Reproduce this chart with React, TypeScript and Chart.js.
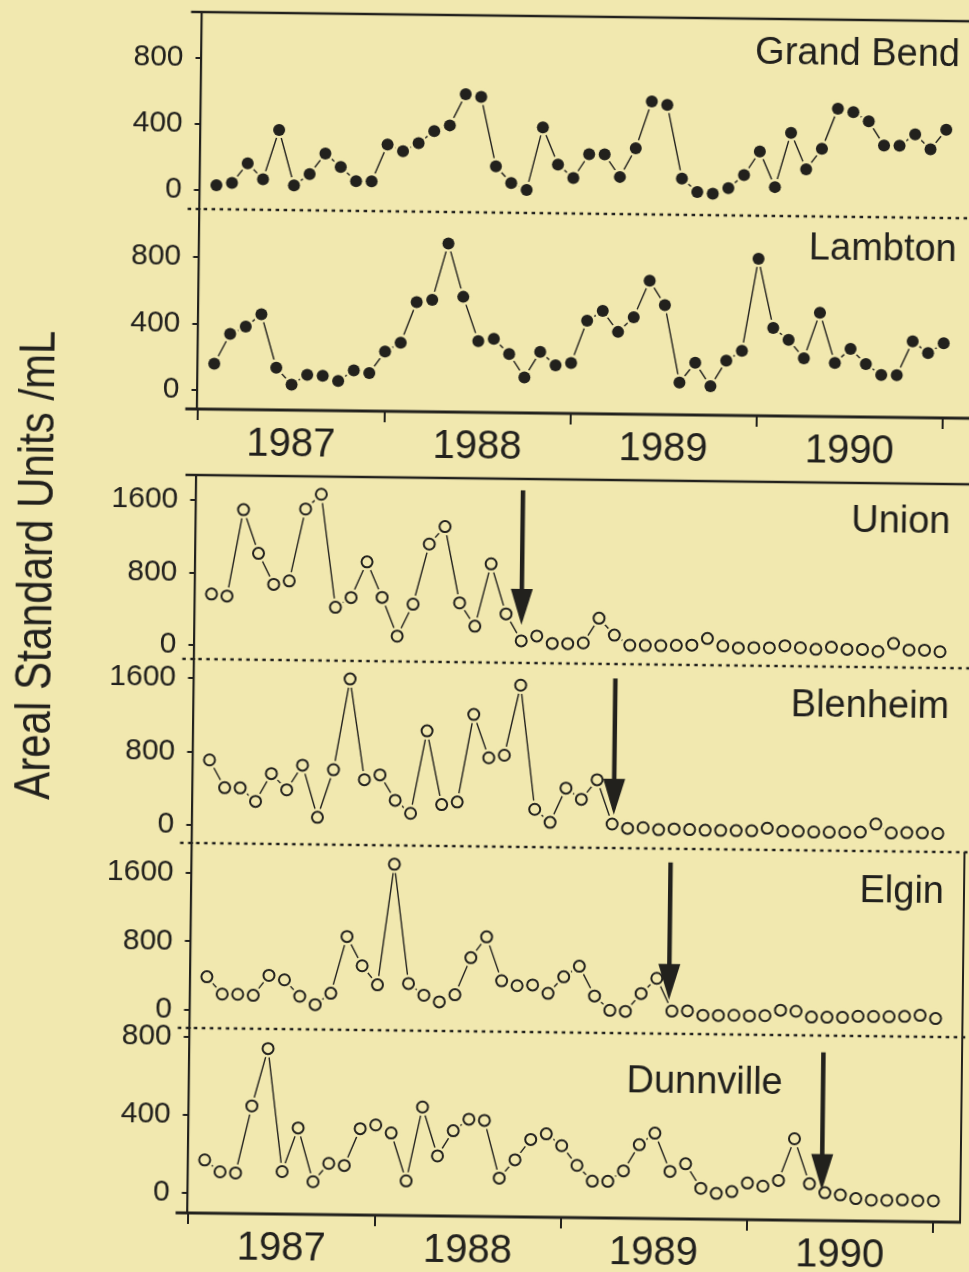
import React, { useEffect, useRef } from 'react';
import { Chart, registerables } from 'chart.js';

Chart.register(...registerables);

const INK = '#22211d';
const BG = '#f1e8af';
const FONT = "'Liberation Sans', Arial, Helvetica, sans-serif";

// x categories: monthly samples (index 0..47), year labels centred on each year
const yearLabels = ['1987', '1988', '1989', '1990'];
const yearCenters = [5, 17, 29, 41];
const yearBounds = [-1, 11, 23, 35, 47];

// Areal Standard Units / mL, monthly
const grandBend = [30, 45, 165, 70, 370, 35, 105, 230, 150, 65, 65, 290, 250, 300, 375, 410, 600, 585, 165, 65, 25, 405, 180, 100, 245, 245, 110, 285, 570, 550, 105, 25, 15, 50, 130, 275, 60, 390, 170, 295, 540, 520, 465, 320, 320, 390, 300, 420];
const lambton = [160, 340, 385, 460, 140, 40, 100, 95, 65, 130, 115, 245, 300, 545, 560, 900, 580, 315, 330, 240, 100, 255, 175, 190, 445, 505, 380, 470, 690, 545, 80, 200, 60, 215, 275, 830, 415, 345, 235, 510, 210, 295, 205, 140, 140, 345, 275, 335];
const union = [565, 545, 1500, 1020, 680, 720, 1515, 1680, 435, 545, 940, 550, 125, 480, 1145, 1340, 500, 245, 935, 385, 90, 145, 65, 65, 75, 350, 165, 55, 55, 55, 60, 65, 140, 60, 40, 45, 45, 70, 50, 35, 60, 40, 40, 20, 110, 40, 40, 25];
const blenheim = [710, 410, 410, 265, 570, 395, 665, 100, 620, 1610, 515, 570, 295, 155, 1055, 255, 285, 1240, 770, 800, 1565, 215, 75, 450, 330, 545, 65, 20, 30, 10, 20, 15, 10, 10, 10, 10, 40, 10, 10, 5, 5, 5, 10, 100, 5, 10, 10, 5];
const elgin = [390, 190, 190, 180, 415, 365, 175, 80, 215, 880, 540, 320, 1730, 340, 205, 130, 215, 650, 895, 385, 330, 340, 245, 440, 565, 220, 55, 45, 255, 435, 55, 60, 10, 10, 15, 10, 15, 80, 70, 5, 5, 5, 20, 20, 20, 25, 40, 5];
const dunnville = [170, 110, 105, 450, 745, 115, 340, 65, 160, 150, 340, 360, 320, 75, 455, 205, 335, 395, 390, 95, 190, 295, 325, 265, 165, 85, 85, 140, 275, 335, 140, 180, 55, 30, 40, 85, 70, 100, 315, 85, 40, 30, 12, 5, 5, 8, 5, 5];

// arrows (month index, value at top of shaft, value at arrow tip)
const arrowStations = ['Union', 'Blenheim', 'Elgin', 'Dunnville'];
const arrowMonth = [20, 26.1, 29.8, 39.8];
const arrowTop = [1750, 1650, 1790, 760];
const arrowTip = [265, 165, 183, 54];

const X_MIN = -1.06;
const X_MAX = 48.8;
const PAD_T = 30;
const PAD_B = 30;
const XH = 60;
const AXIS_LEFT = 194.5;
const CANVAS_W = 1000;
const AREA_RIGHT = 968;

type PanelDef = {
  name: string;
  values: number[];
  filled: boolean;
  top: number;
  bottom: number;
  yMin: number;
  yMax: number;
  yTicks: number[];
  xAxis: boolean;
  topSolid: boolean;
  rightLine: boolean;
  labelRight: number;
  labelBase: number;
};

const panels: PanelDef[] = [
  { name: 'Grand Bend', values: grandBend, filled: true, top: 12, bottom: 209, yMin: -115, yMax: 1079, yTicks: [0, 400, 800], xAxis: false, topSolid: true, rightLine: false, labelRight: 15, labelBase: 45 },
  { name: 'Lambton', values: lambton, filled: true, top: 209, bottom: 409, yMin: -114, yMax: 1089, yTicks: [0, 400, 800], xAxis: true, topSolid: false, rightLine: false, labelRight: 16, labelBase: 43 },
  { name: 'Union', values: union, filled: false, top: 475, bottom: 659, yMin: -154, yMax: 1876, yTicks: [0, 800, 1600], xAxis: false, topSolid: true, rightLine: false, labelRight: 19, labelBase: 48.5 },
  { name: 'Blenheim', values: blenheim, filled: false, top: 659, bottom: 843, yMin: -196, yMax: 1807, yTicks: [0, 800, 1600], xAxis: false, topSolid: false, rightLine: false, labelRight: 18, labelBase: 49.5 },
  { name: 'Elgin', values: elgin, filled: false, top: 843, bottom: 1028, yMin: -210, yMax: 1950, yTicks: [0, 800, 1600], xAxis: false, topSolid: false, rightLine: true, labelRight: 21, labelBase: 50.5 },
  { name: 'Dunnville', values: dunnville, filled: false, top: 1028, bottom: 1213, yMin: -103, yMax: 846, yTicks: [0, 400, 800], xAxis: true, topSolid: false, rightLine: true, labelRight: 180, labelBase: 59 },
];

function Panel({ p }: { p: PanelDef }) {
  const ref = useRef<HTMLCanvasElement | null>(null);
  const height = PAD_T + (p.bottom - p.top) + (p.xAxis ? XH : 0) + PAD_B;

  useEffect(() => {
    if (!ref.current) return;
    const pts = p.values.map((v, i) => ({ x: i, y: v }));
    const ai = arrowStations.indexOf(p.name);

    const frame = {
      id: 'frame_' + p.name.replace(/\s/g, ''),
      afterDraw(chart: any) {
        const { ctx, chartArea: a, scales } = chart;
        ctx.save();
        ctx.strokeStyle = INK;
        ctx.fillStyle = INK;
        ctx.lineCap = 'butt';
        if (p.topSolid) {
          ctx.lineWidth = 2.6;
          ctx.beginPath();
          ctx.moveTo(a.left - 11, a.top);
          ctx.lineTo(a.right + 10, a.top);
          ctx.stroke();
        }
        if (p.xAxis) {
          ctx.lineWidth = 3;
          ctx.beginPath();
          ctx.moveTo(a.left - 12, a.bottom);
          ctx.lineTo(p.rightLine ? a.right : a.right + 10, a.bottom);
          ctx.stroke();
        } else {
          ctx.lineWidth = 2.4;
          ctx.setLineDash([3.5, 4.5]);
          ctx.beginPath();
          ctx.moveTo(a.left - 12, a.bottom);
          ctx.lineTo(a.right + 10, a.bottom);
          ctx.stroke();
          ctx.setLineDash([]);
        }
        if (p.rightLine) {
          ctx.lineWidth = 2;
          ctx.beginPath();
          ctx.moveTo(a.right - 1, a.top);
          ctx.lineTo(a.right - 1, a.bottom);
          ctx.stroke();
        }

        ctx.font = `38px ${FONT}`;
        ctx.textAlign = 'right';
        ctx.textBaseline = 'alphabetic';
        ctx.fillText(p.name, a.right - p.labelRight, a.top + p.labelBase);

        if (ai >= 0) {
          const x = scales.x.getPixelForValue(arrowMonth[ai]);
          const y0 = scales.y.getPixelForValue(arrowTop[ai]);
          const y1 = scales.y.getPixelForValue(arrowTip[ai]);
          ctx.lineWidth = 4.5;
          ctx.beginPath();
          ctx.moveTo(x, y0);
          ctx.lineTo(x, y1 - 30);
          ctx.stroke();
          ctx.beginPath();
          ctx.moveTo(x - 11, y1 - 36);
          ctx.lineTo(x + 11, y1 - 36);
          ctx.lineTo(x, y1);
          ctx.closePath();
          ctx.fill();
        }
        ctx.restore();
      },
    };

    const clear = 'rgba(0,0,0,0)';
    const xScale: any = p.xAxis
      ? {
          type: 'linear',
          min: X_MIN,
          max: X_MAX,
          position: 'bottom',
          afterBuildTicks: (s: any) => {
            s.ticks = [...yearBounds, ...yearCenters].sort((a, b) => a - b).map((v) => ({ value: v }));
          },
          afterFit: (s: any) => {
            s.height = XH;
          },
          border: { display: false },
          grid: {
            drawOnChartArea: false,
            drawTicks: true,
            tickLength: 11,
            lineWidth: 2,
            color: (c: any) => (c.tick && yearBounds.includes(c.tick.value) ? INK : clear),
            tickColor: (c: any) => (c.tick && yearBounds.includes(c.tick.value) ? INK : clear),
          },
          ticks: {
            autoSkip: false,
            maxRotation: 0,
            minRotation: 0,
            padding: 0,
            color: INK,
            font: { family: FONT, size: 40 },
            callback: (v: any) => {
              const i = yearCenters.indexOf(Number(v));
              return i >= 0 ? yearLabels[i] : '';
            },
          },
        }
      : { type: 'linear', min: X_MIN, max: X_MAX, display: false };

    const chart = new Chart(ref.current, {
      type: 'line',
      data: {
        datasets: [
          { data: pts, showLine: true, borderColor: INK, borderWidth: 1.4, pointRadius: 0, tension: 0, order: 3 } as any,
          { data: pts, showLine: false, pointRadius: p.filled ? 8.5 : 9, pointBackgroundColor: BG, pointBorderColor: BG, pointBorderWidth: 0, order: 2 } as any,
          {
            data: pts,
            showLine: false,
            pointRadius: p.filled ? 6 : 5.5,
            pointBackgroundColor: p.filled ? INK : BG,
            pointBorderColor: INK,
            pointBorderWidth: p.filled ? 0 : 2,
            order: 1,
          } as any,
        ],
      },
      options: {
        animation: false,
        responsive: false,
        maintainAspectRatio: false,
        events: [],
        layout: { autoPadding: false, padding: { top: PAD_T, bottom: PAD_B, left: 0, right: CANVAS_W - AREA_RIGHT } },
        plugins: { legend: { display: false }, tooltip: { enabled: false } },
        scales: {
          x: xScale,
          y: {
            type: 'linear',
            min: p.yMin,
            max: p.yMax,
            position: 'left',
            afterBuildTicks: (s: any) => {
              s.ticks = p.yTicks.map((v) => ({ value: v }));
            },
            afterFit: (s: any) => {
              s.width = AXIS_LEFT;
            },
            border: { display: true, color: INK, width: 2.2 },
            grid: { drawOnChartArea: false, drawTicks: true, tickLength: 6, color: INK, lineWidth: 2 },
            ticks: {
              autoSkip: false,
              padding: 12,
              color: INK,
              font: { family: FONT, size: 30 },
              callback: (v: any) => String(v),
            },
          } as any,
        },
      } as any,
      plugins: [frame],
    });
    return () => chart.destroy();
  }, []);

  return (
    <canvas
      ref={ref}
      width={CANVAS_W}
      height={height}
      style={{ position: 'absolute', left: 0, top: p.top - PAD_T, width: CANVAS_W, height }}
    />
  );
}

export default function App() {
  return (
    <div style={{ position: 'absolute', left: 0, top: 0, width: 969, height: 1272, overflow: 'hidden', background: BG }}>
      <div
        style={{
          position: 'absolute',
          left: 0,
          top: 0,
          width: 969,
          height: 1272,
          transform: 'rotate(0.69deg)',
          transformOrigin: '195px 640px',
        }}
      >
        {panels.map((p) => (
          <Panel key={p.name} p={p} />
        ))}
        <div
          style={{
            position: 'absolute',
            left: 34,
            top: 567,
            transform: 'translate(-50%, -50%) rotate(-90deg) scaleX(0.84)',
            whiteSpace: 'nowrap',
            fontFamily: FONT,
            fontSize: 50,
            lineHeight: 1,
            color: INK,
          }}
        >
          Areal Standard Units /mL
        </div>
      </div>
    </div>
  );
}
